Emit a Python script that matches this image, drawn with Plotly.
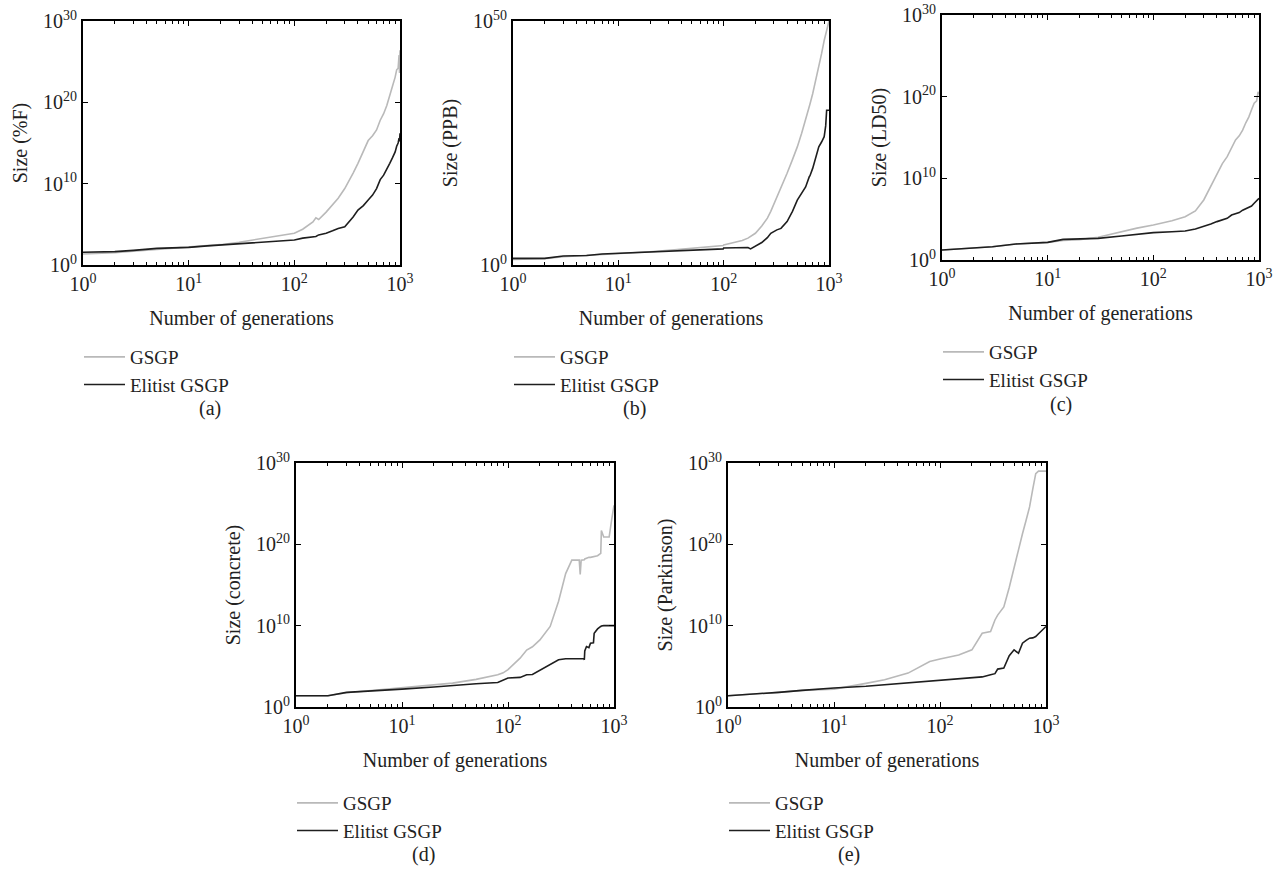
import plotly.graph_objects as go

# Generations (x) and log10 of program size for each dataset and method
x_a = [1, 2, 3, 5, 7, 10, 15, 20, 30, 50, 70, 100, 120, 150, 160, 170, 200, 230, 260, 300,
       330, 360, 400, 450, 500, 550, 600, 650, 700, 750, 800, 850, 900, 930, 960, 980, 990, 1000]
gsgp_a = [1.35, 1.5, 1.7, 1.9, 2.05, 2.17, 2.35, 2.5, 2.8, 3.3, 3.55, 3.9, 4.4, 5.3, 5.8, 5.6,
          6.5, 7.4, 8.2, 9.4, 10.3, 11.3, 12.5, 14.0, 15.3, 15.9, 16.6, 17.8, 18.6, 19.6, 20.7,
          22.0, 23.1, 24.0, 24.2, 25.8, 23.6, 26.4]
elit_a = [1.56, 1.64, 1.8, 2.05, 2.1, 2.17, 2.35, 2.46, 2.6, 2.78, 2.9, 3.07, 3.3, 3.4, 3.5,
          3.7, 3.9, 4.2, 4.5, 4.7, 5.3, 5.9, 6.75, 7.3, 8.0, 8.6, 9.4, 10.5, 11.05, 11.9, 12.5,
          13.2, 13.9, 14.6, 15.0, 15.6, 15.2, 16.2]

x_b = [1, 2, 3, 5, 7, 10, 20, 30, 50, 70, 99, 100, 150, 170, 180, 200, 230, 260, 280, 320,
       350, 400, 450, 500, 550, 600, 650, 660, 700, 750, 800, 850, 900, 930, 950, 1000]
gsgp_b = [1.16, 1.3, 1.7, 1.95, 2.2, 2.4, 2.7, 3.0, 3.4, 3.7, 4.0, 4.1, 5.0, 5.5, 5.8, 6.5,
          8.0, 9.6, 11.0, 13.8, 15.7, 18.8, 21.6, 24.2, 27.0, 29.7, 32.5, 33.0, 35.1, 37.9, 40.6,
          43.3, 46.0, 47.2, 48.0, 50.0]
elit_b = [1.36, 1.36, 1.84, 1.95, 2.25, 2.4, 2.6, 2.8, 3.07, 3.2, 3.3, 3.5, 3.55, 3.6, 3.3,
          3.9, 4.6, 5.6, 6.5, 7.2, 7.5, 8.9, 11.0, 13.3, 14.7, 16.0, 18.1, 18.3, 19.8, 22.0,
          24.2, 25.2, 26.3, 28.5, 31.7, 31.7]

x_c = [1, 2, 3, 5, 7, 10, 14, 20, 30, 50, 70, 100, 150, 200, 250, 300, 350, 400, 450, 500,
       550, 600, 650, 700, 750, 800, 850, 900, 950, 980, 1000]
gsgp_c = [1.22, 1.45, 1.63, 1.96, 2.05, 2.16, 2.4, 2.5, 2.78, 3.47, 3.9, 4.29, 4.8, 5.3, 6.0,
          7.35, 9.0, 10.6, 11.8, 12.65, 13.8, 14.7, 15.2, 15.9, 16.8, 17.5, 18.4, 19.2, 19.5,
          20.6, 20.3]
elit_c = [1.22, 1.45, 1.63, 1.96, 2.05, 2.16, 2.53, 2.55, 2.65, 2.94, 3.1, 3.35, 3.45, 3.55,
          3.8, 4.08, 4.4, 4.7, 4.9, 5.1, 5.5, 5.7, 5.8, 6.1, 6.3, 6.5, 6.6, 6.94, 7.2, 7.4, 7.55]

x_d = [1, 2, 3, 5, 10, 20, 30, 50, 80, 90, 100, 130, 150, 170, 200, 250, 300, 350, 400, 470,
       480, 490, 520, 525, 530, 550, 580, 600, 640, 650, 700, 750, 760, 800, 900, 950, 1000]
gsgp_d = [1.39, 1.39, 1.75, 2.0, 2.33, 2.7, 2.94, 3.4, 3.96, 4.2, 4.6, 6.0, 7.0, 7.4, 8.25,
          9.9, 13.0, 16.4, 18.06, 18.06, 16.3, 18.06, 18.06, 18.1, 18.2, 18.3, 18.4, 18.4, 18.5,
          18.5, 18.6, 18.9, 21.7, 20.9, 20.9, 23.0, 24.8]
elit_d = [1.39, 1.39, 1.8, 1.95, 2.2, 2.45, 2.66, 2.85, 3.02, 3.3, 3.56, 3.64, 3.96, 4.0, 4.5,
          5.2, 5.8, 5.93, 5.93, 5.93, 5.93, 5.93, 5.93, 5.8, 6.9, 7.44, 7.3, 7.85, 7.9, 9.07,
          9.6, 9.9, 9.95, 10.0, 10.0, 10.0, 10.0]

x_e = [1, 2, 3, 5, 7, 10, 20, 30, 50, 80, 100, 150, 200, 250, 300, 330, 350, 400, 450, 500,
       550, 600, 650, 700, 750, 800, 850, 900, 950, 1000]
gsgp_e = [1.39, 1.6, 1.8, 2.04, 2.1, 2.2, 2.9, 3.35, 4.17, 5.6, 5.9, 6.4, 7.03, 9.07, 9.28,
          10.7, 11.3, 12.3, 14.7, 17.2, 19.3, 21.3, 23.0, 24.6, 26.8, 28.7, 29.0, 29.0, 29.0, 29.0]
elit_e = [1.39, 1.6, 1.8, 2.04, 2.2, 2.33, 2.55, 2.74, 2.94, 3.15, 3.27, 3.45, 3.56, 3.7, 3.96,
          4.1, 4.66, 4.78, 6.3, 7.03, 6.6, 7.85, 8.2, 8.46, 8.5, 8.66, 9.0, 9.28, 9.6, 9.9]

y_labels = ["Size (%F)", "Size (PPB)", "Size (LD50)", "Size (concrete)", "Size (Parkinson)"]
panel_tags = ["(a)", "(b)", "(c)", "(d)", "(e)"]
y_exps = [[0, 10, 20, 30], [0, 50], [0, 10, 20, 30], [0, 10, 20, 30], [0, 10, 20, 30]]
series = [(x_a, gsgp_a, elit_a), (x_b, gsgp_b, elit_b), (x_c, gsgp_c, elit_c),
          (x_d, gsgp_d, elit_d), (x_e, gsgp_e, elit_e)]

W, H = 1281, 879
# plot-area boxes in pixels: left, right, top, bottom
boxes = [(83, 400, 21, 265), (513, 829, 21, 265), (942, 1259, 15, 260),
         (296, 614, 463, 707), (728, 1046, 463, 707)]
tag_x = [210, 634, 1061, 423, 849]
tag_y = [408, 408, 404, 854, 854]
legend_top = [338, 338, 333, 784, 784]

FONT = "Liberation Serif, Times New Roman, serif"
GRAY = "#b9b9b9"
DARK = "#1e1e1e"
FS = 20

fig = go.Figure()
layout = dict(width=W, height=H, margin=dict(l=0, r=0, t=0, b=0), template="none",
              paper_bgcolor="white", plot_bgcolor="white",
              font=dict(family=FONT, size=FS, color="#222"), annotations=[])

minor_x = [float(m * 10 ** k) for k in range(3) for m in range(2, 10)]

for i, ((xs, g, e), (l, r, t, b)) in enumerate(zip(series, boxes)):
    n = "" if i == 0 else str(i + 1)
    xa, ya = "x" + n, "y" + n
    leg = "legend" + n
    fig.add_trace(go.Scatter(x=xs, y=[10.0 ** v for v in g], mode="lines", name="GSGP",
                             line=dict(color=GRAY, width=1.6), xaxis=xa, yaxis=ya,
                             legend=leg))
    fig.add_trace(go.Scatter(x=xs, y=[10.0 ** v for v in e], mode="lines", name="Elitist GSGP",
                             line=dict(color=DARK, width=1.6), xaxis=xa, yaxis=ya,
                             legend=leg))
    exps = y_exps[i]
    layout["xaxis" + n] = dict(
        type="log", range=[0, 3], domain=[l / W, r / W], anchor=ya, automargin=False,
        showline=True, linecolor="black", linewidth=1.8, mirror="ticks",
        ticks="inside", ticklen=5, tickwidth=1, tickcolor="black",
        tickvals=[1.0, 10.0, 100.0, 1000.0],
        ticktext=[f"10<sup>{k}</sup>" for k in range(4)],
        minor=dict(ticks="inside", ticklen=3, tickwidth=1, tickcolor="black",
                   tickvals=minor_x, showgrid=False),
        showgrid=False, zeroline=False, tickfont=dict(size=FS),
        title=dict(text="Number of generations", standoff=17, font=dict(size=FS)),
    )
    layout["yaxis" + n] = dict(
        type="log", range=[0, exps[-1]], domain=[1 - b / H, 1 - t / H], anchor=xa,
        automargin=False,
        showline=True, linecolor="black", linewidth=1.8, mirror="ticks",
        ticks="inside", ticklen=5, tickwidth=1, tickcolor="black",
        tickvals=[10.0 ** k for k in exps],
        ticktext=[f"10<sup>{k}</sup>" for k in exps],
        showgrid=False, zeroline=False, tickfont=dict(size=FS),
        title=dict(text=y_labels[i], standoff=10, font=dict(size=FS)),
    )
    layout[leg] = dict(x=(l - 4) / W, y=1 - legend_top[i] / H, xanchor="left", yanchor="top",
                       bgcolor="rgba(0,0,0,0)", font=dict(size=19, family=FONT),
                       tracegroupgap=0, itemwidth=41)
    layout["annotations"].append(dict(
        text=panel_tags[i], x=tag_x[i] / W, y=1 - tag_y[i] / H,
        xref="paper", yref="paper", showarrow=False, font=dict(size=FS),
        xanchor="center", yanchor="middle"))

fig.update_layout(**layout)
fig.write_html("out.html")
